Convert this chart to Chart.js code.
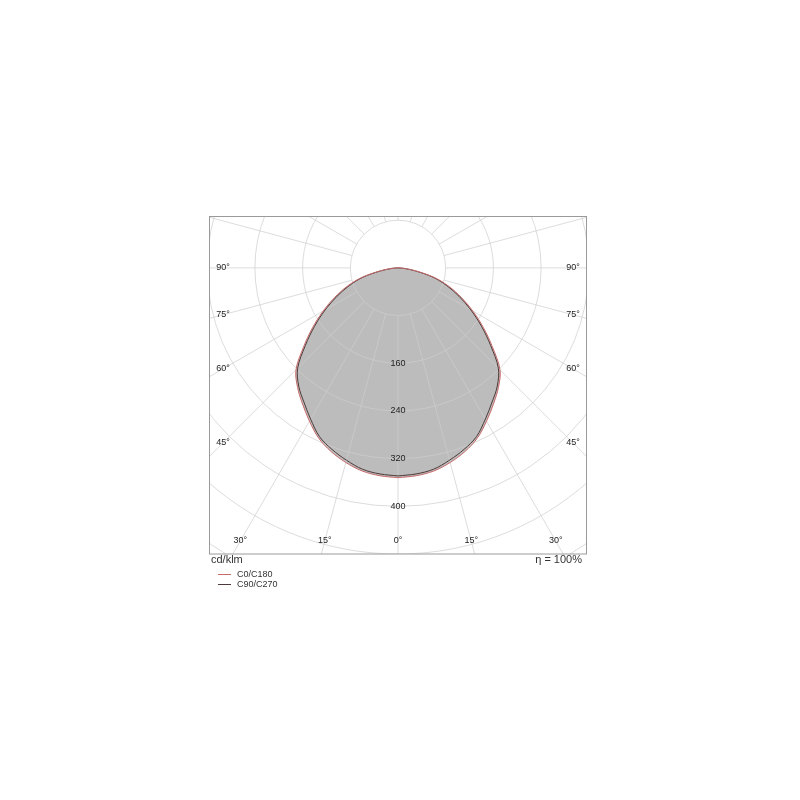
<!DOCTYPE html>
<html>
<head>
<meta charset="utf-8">
<script src="https://cdn.jsdelivr.net/npm/chart.js@4.4.0/dist/chart.umd.min.js"></script>
<style>
  html, body { margin: 0; padding: 0; background: #fff; }
  canvas { display: block; }
</style>
</head>
<body>
<canvas id="ldc" width="800" height="800"></canvas>
<script>
// gamma angle from nadir (deg) and luminous intensity (cd/klm)
const gammaAngles = [0, 5, 10, 15, 20, 25, 30, 35, 40, 45, 50, 55, 60, 65, 70, 75, 80, 85, 90];
const c0c180  = [352, 350, 346, 338, 328, 315, 297, 279, 262, 242, 207, 175, 145, 117, 91, 64, 32, 11, 0];
const c90c270 = [349, 347, 343, 334, 324, 312, 293, 275, 259, 238, 203, 171, 141, 113, 87, 61, 30, 10, 0];

const ringValues = [80, 160, 240, 320, 400, 480, 560, 640];
const ringLabels = [160, 240, 320, 400];
const angleLabels = [0, 15, 30, 45, 60, 75, 90];
const spokeStep = 15;

const legendNames = ['C0/C180', 'C90/C270'];
const unitText = 'cd/klm';
const effText = 'η = 100%';

const RED = '#c86a6a';
const DARK = '#4e3a3a';
const FONT = '"Liberation Sans", Arial, sans-serif';

// polar (gamma, I) -> cartesian, side +1 right half, -1 left half
function halfCurve(values, side) {
    return gammaAngles.map((g, i) => {
        const rad = g * Math.PI / 180;
        return { x: side * values[i] * Math.sin(rad), y: -values[i] * Math.cos(rad) };
    });
}

const polarGrid = {
    id: 'polarGrid',
    beforeDatasetsDraw(chart) {
        const { ctx, chartArea: a, scales: { x, y } } = chart;
        const cx = x.getPixelForValue(0), cy = y.getPixelForValue(0);
        const k = x.getPixelForValue(1) - cx;
        ctx.save();
        ctx.beginPath();
        ctx.rect(a.left, a.top, a.right - a.left, a.bottom - a.top);
        ctx.clip();
        ctx.strokeStyle = 'rgba(205,205,205,0.7)';
        ctx.lineWidth = 1;
        ringValues.forEach(v => {
            ctx.beginPath();
            ctx.arc(cx, cy, v * k, 0, Math.PI * 2);
            ctx.stroke();
        });
        const rIn = ringValues[0] * k;
        for (let g = 0; g < 360; g += spokeStep) {
            const t = g * Math.PI / 180;
            const dx = Math.sin(t), dy = Math.cos(t);
            ctx.beginPath();
            ctx.moveTo(cx + dx * rIn, cy + dy * rIn);
            ctx.lineTo(cx + dx * 1200, cy + dy * 1200);
            ctx.stroke();
        }
        ctx.restore();
    },
    afterDraw(chart) {
        const { ctx, chartArea: a, scales: { x, y } } = chart;
        const cx = x.getPixelForValue(0), cy = y.getPixelForValue(0);
        const k = x.getPixelForValue(1) - cx;
        ctx.save();

        // frame
        ctx.strokeStyle = '#9a9a9a';
        ctx.lineWidth = 1;
        ctx.strokeRect(a.left + 0.5, a.top + 0.5, a.right - a.left - 1, a.bottom - a.top - 0.5);

        ctx.fillStyle = '#222';
        ctx.font = '9px ' + FONT;
        ctx.textAlign = 'center';
        ctx.textBaseline = 'middle';

        // intensity labels on the vertical axis
        ringLabels.forEach(v => ctx.fillText(String(v), cx, cy + v * k));

        // angle labels along the frame, sitting on the spokes
        const insetL = a.left + 14, insetR = a.right - 14, insetB = a.bottom - 13;
        angleLabels.forEach(g => {
            const t = g * Math.PI / 180;
            const s = Math.sin(t), c = Math.cos(t);
            [1, -1].forEach(side => {
                if (g === 0 && side < 0) return;
                let d = Infinity;
                if (s > 1e-6) d = Math.min(d, (side > 0 ? insetR - cx : cx - insetL) / s);
                if (c > 1e-6) d = Math.min(d, (insetB - cy) / c);
                ctx.fillText(g + '°', cx + side * s * d, cy + c * d);
            });
        });

        // unit and efficiency
        ctx.font = '11px ' + FONT;
        ctx.fillStyle = '#333';
        ctx.textAlign = 'left';
        ctx.fillText(unitText, a.left + 2, a.bottom + 6);
        ctx.textAlign = 'right';
        ctx.fillText(effText, a.right - 5, a.bottom + 6);

        // legend
        ctx.font = '9px ' + FONT;
        ctx.textAlign = 'left';
        [RED, DARK].forEach((col, i) => {
            const ly = a.bottom + 20.5 + i * 10;
            ctx.strokeStyle = col;
            ctx.beginPath();
            ctx.moveTo(a.left + 9, ly);
            ctx.lineTo(a.left + 22, ly);
            ctx.stroke();
            ctx.fillStyle = '#333';
            ctx.fillText(legendNames[i], a.left + 28, ly);
        });
        ctx.restore();
    }
};

const lineStyle = { showLine: true, pointRadius: 0, borderWidth: 1, tension: 0.35 };

new Chart(document.getElementById('ldc').getContext('2d'), {
    type: 'scatter',
    data: {
        datasets: [
            { ...lineStyle, label: 'C0', data: halfCurve(c0c180, 1), borderColor: RED, backgroundColor: '#bcbcbc', fill: 'origin' },
            { ...lineStyle, label: 'C180', data: halfCurve(c0c180, -1), borderColor: RED, backgroundColor: '#bcbcbc', fill: 'origin' },
            { ...lineStyle, label: 'C90', data: halfCurve(c90c270, 1), borderColor: DARK, fill: false },
            { ...lineStyle, label: 'C270', data: halfCurve(c90c270, -1), borderColor: DARK, fill: false }
        ]
    },
    options: {
        indexAxis: 'y',
        responsive: false,
        animation: false,
        devicePixelRatio: 1,
        layout: { padding: { left: 209, top: 216, right: 213, bottom: 246 } },
        scales: {
            x: { type: 'linear', min: -317, max: 317, display: false },
            y: { type: 'linear', min: -480, max: 87, display: false }
        },
        plugins: {
            legend: { display: false },
            tooltip: { enabled: false },
            filler: { drawTime: 'beforeDatasetsDraw' }
        }
    },
    plugins: [polarGrid]
});
</script>
</body>
</html>
